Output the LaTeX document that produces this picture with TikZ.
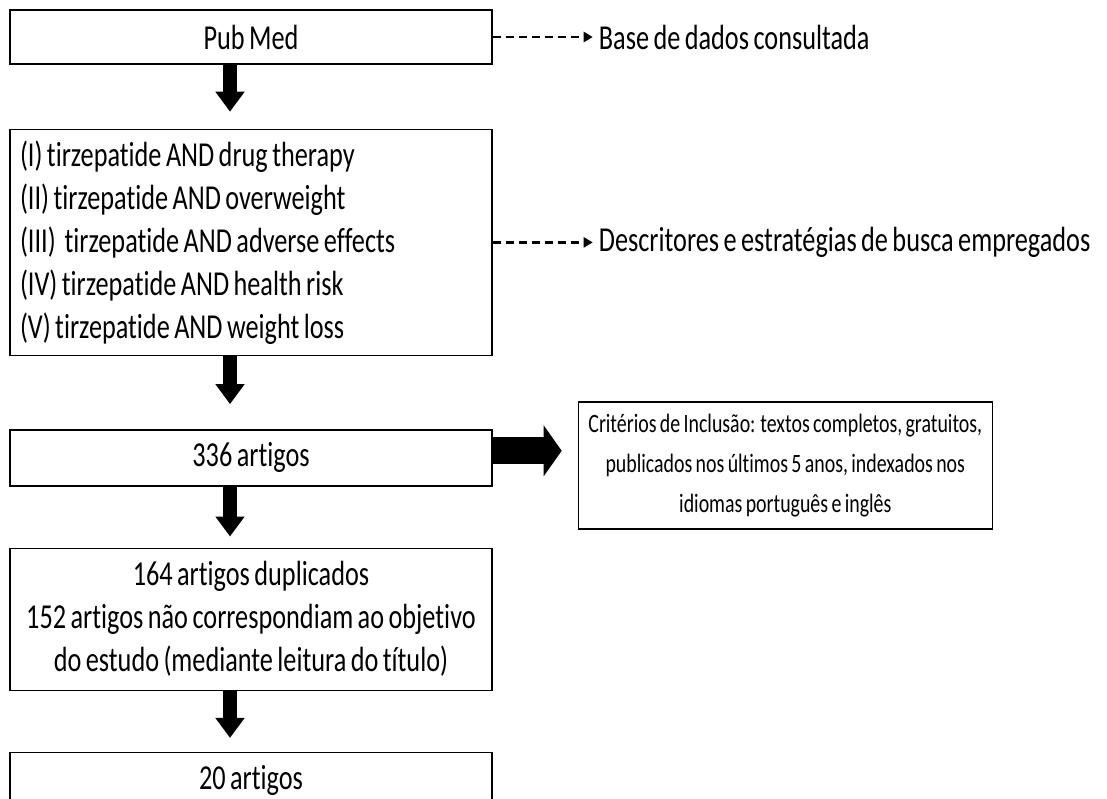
\documentclass[tikz,border=0pt]{standalone}
\usepackage{fontspec}
\setmainfont[FakeStretch=0.75, WordSpace=0.75, Ligatures=NoCommon]{Carlito}
\usetikzlibrary{arrows.meta, positioning}

\begin{document}
\begin{tikzpicture}[
  x=1pt, y=1pt,
  font=\fontsize{35}{43}\selectfont,
  box/.style={draw, line width=1.4pt, minimum width=482pt, inner xsep=10pt, align=center},
  flow/.style={line width=14pt, -{Triangle[width=28pt, length=20pt]}},
  bigflow/.style={line width=27pt, -{Triangle[width=50pt, length=18pt]}},
  side/.style={line width=2.2pt, dash pattern=on 8pt off 5pt,
               -{Triangle[width=10pt, length=9pt]}, shorten >=6pt},
  note/.style={inner sep=0pt}
]
\useasboundingbox (0,0) rectangle (1107,-798);

\node[box, minimum height=54pt] (pubmed) at (251,-37) {Pub Med};
\node[box, minimum height=226pt, below=64pt of pubmed, text width=462pt, align=flush left] (desc)
  {(I) tirzepatide AND drug therapy\\
   (II) tirzepatide AND overweight\\
   (III)\ \ tirzepatide AND adverse effects\\
   (IV) tirzepatide AND health risk\\
   (V) tirzepatide AND weight loss};
\node[box, minimum height=56pt, below=73pt of desc] (total) {336 artigos};
\node[box, minimum height=142pt, below=61pt of total] (excl)
  {164 artigos duplicados\\152 artigos não correspondiam ao objetivo\\do estudo (mediante leitura do título)};
\node[box, minimum height=55pt, below=61pt of excl] (final) {20 artigos};
\node[box, minimum width=411pt, minimum height=127pt, right=85pt of total, yshift=-7.5pt,
      font=\fontsize{26.5}{40}\selectfont] (crit)
  {Critérios de Inclusão: textos completos, gratuitos,\\publicados nos últimos 5 anos, indexados nos\\idiomas português e inglês};

\node[note, right=106pt of pubmed] (lbase) {Base de dados consultada};
\node[note, right=106pt of desc] (ldesc) {Descritores e estratégias de busca empregados};

\draw[side] (pubmed) -- (lbase);
\draw[side] (desc) -- (ldesc);

\draw[flow, shorten >=17pt] ([xshift=-21pt]pubmed.south) -- ([xshift=-21pt]desc.north);
\draw[flow, shorten >=25pt] ([xshift=-21pt]desc.south) -- ([xshift=-21pt]total.north);
\draw[flow, shorten >=11pt] ([xshift=-21pt]total.south) -- ([xshift=-21pt]excl.north);
\draw[flow, shorten >=14pt] ([xshift=-21pt]excl.south) -- ([xshift=-21pt]final.north);
\draw[bigflow, shorten >=16pt] ([yshift=7pt]total.east) -- ([yshift=7pt]total.east -| crit.west);
\end{tikzpicture}
\end{document}
